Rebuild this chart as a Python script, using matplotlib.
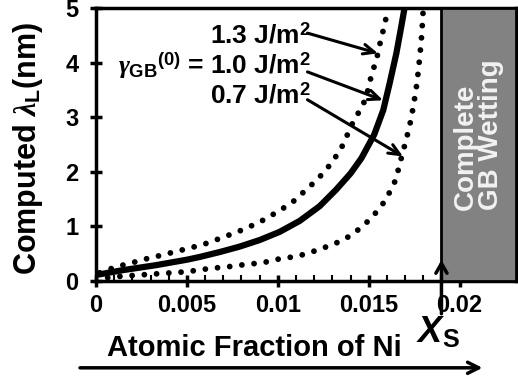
import numpy as np
import matplotlib
matplotlib.use("Agg")
from matplotlib import pyplot as plt

plt.rcParams['font.family'] = ['Liberation Sans', 'DejaVu Sans']
plt.rcParams['font.weight'] = 'bold'
plt.rcParams['mathtext.fontset'] = 'custom'
plt.rcParams['mathtext.rm'] = 'Liberation Sans'
plt.rcParams['mathtext.it'] = 'Liberation Serif:italic'
plt.rcParams['mathtext.sf'] = 'Liberation Sans:italic'

# computed lambda_L (nm) vs atomic fraction of Ni
x_10 = [0.0, 0.0015, 0.0033, 0.005, 0.0057, 0.0068, 0.0079, 0.0090, 0.0101,
        0.0112, 0.0123, 0.0132, 0.0140, 0.0146, 0.0153, 0.0158, 0.01615,
        0.01652, 0.01679, 0.01697]
lam_10 = [0.11, 0.20, 0.29, 0.39, 0.44, 0.53, 0.63, 0.75, 0.90,
          1.10, 1.37, 1.67, 1.97, 2.25, 2.68, 3.13, 3.62,
          4.17, 4.66, 5.0]

x_13 = [0.0002, 0.00086, 0.00146, 0.00205, 0.00269, 0.00333, 0.00452, 0.0058,
        0.00636, 0.00696, 0.00755, 0.00815, 0.00874, 0.00929, 0.00984, 0.01038,
        0.0109, 0.01139, 0.01185, 0.01231, 0.01271, 0.01309, 0.01346, 0.01372,
        0.01423, 0.0146, 0.01487, 0.01515, 0.01533, 0.01551, 0.01564, 0.01579,
        0.01593, 0.0160]
lam_13 = [0.15, 0.23, 0.29, 0.34, 0.40, 0.45, 0.55, 0.66,
          0.72, 0.80, 0.87, 0.95, 1.04, 1.13, 1.24, 1.35,
          1.47, 1.62, 1.76, 1.91, 2.06, 2.23, 2.41, 2.60,
          2.98, 3.16, 3.38, 3.77, 3.96, 4.17, 4.38, 4.58,
          4.78, 5.0]

x_07 = [0.0, 0.0004, 0.00113, 0.0024, 0.005, 0.00626, 0.00691, 0.00751, 0.00815,
        0.00874, 0.00938, 0.01002, 0.01062, 0.01125, 0.01185, 0.01245, 0.01304,
        0.01363, 0.01418, 0.01515, 0.01593, 0.01648, 0.01679, 0.0171, 0.01732,
        0.01748, 0.01762, 0.01773, 0.01782, 0.0179, 0.01796, 0.0180]
lam_07 = [0.0, 0.05, 0.08, 0.11, 0.17, 0.23, 0.25, 0.27, 0.30,
          0.32, 0.35, 0.40, 0.43, 0.47, 0.53, 0.60, 0.67,
          0.76, 0.87, 1.15, 1.48, 1.85, 2.25, 2.64, 2.95,
          3.25, 3.55, 3.85, 4.15, 4.45, 4.75, 5.0]

x_s = 0.019
x_max = 0.0231
x_ticks = [0, 0.005, 0.01, 0.015, 0.02]
x_ticklabels = ['0', '0.005', '0.01', '0.015', '0.02']
y_ticks = [0, 1, 2, 3, 4, 5]
gamma_labels = ['1.3 J/m$^2$', '1.0 J/m$^2$', '0.7 J/m$^2$']

fig = plt.figure(figsize=(5.18, 3.83), dpi=100)
ax = fig.add_axes([96 / 518, 1 - 281 / 383, 420 / 518, 273 / 383])

dots = dict(color='black', lw=4.2, linestyle=(0, (0.001, 2.1)),
            dash_capstyle='round', solid_capstyle='round')
ax.plot(x_13, lam_13, **dots)
ax.plot(x_07, lam_07, **dots)
ax.plot(x_10, lam_10, color='black', lw=4.5, solid_joinstyle='round')

# complete GB wetting region
ax.axvspan(x_s, x_max, facecolor='#828282', edgecolor='black', lw=2, zorder=3)
ax.text((x_s + x_max) / 2, 1.3, 'Complete\nGB Wetting', rotation=90,
        ha='center', va='bottom', multialignment='left', color='#f2f2f2',
        fontsize=20, fontweight='bold', linespacing=0.95, zorder=4)

ax.set_xlim(0, x_max)
ax.set_ylim(0, 5)
ax.set_xticks(x_ticks)
ax.set_xticklabels(x_ticklabels)
ax.set_yticks(y_ticks)
ax.set_xticks(np.arange(0.001, 0.0231, 0.001), minor=True)
ax.tick_params(axis='both', which='major', direction='inout', length=9, width=2.5,
               labelsize=17)
ax.tick_params(axis='x', which='major', pad=5)
ax.tick_params(axis='y', which='major', pad=8)
ax.tick_params(axis='x', which='minor', direction='in', length=4, width=1.5)
for s in ax.spines.values():
    s.set_linewidth(2.5)

ax.set_ylabel('Computed $\\lambda_{\\rm L}$(nm)', fontsize=22, fontweight='bold',
              va='center')
ax.yaxis.set_label_coords(-0.163, 0.485)
ax.set_xlabel('Atomic Fraction of Ni', fontsize=21, fontweight='bold', va='center')
ax.xaxis.set_label_coords(0.376, -0.245)

# gamma labels with arrows
lab_x = 0.00626
lab_y = [4.51, 3.95, 3.41]
tails = [(0.01163, 4.54), (0.01163, 3.83), (0.01163, 3.32)]
heads = [(0.01551, 4.17), (0.01579, 3.31), (0.01689, 2.28)]
for t, yy in zip(gamma_labels, lab_y):
    ax.text(lab_x, yy, t, ha='left', va='center', fontsize=19, fontweight='bold')
ax.text(lab_x - 0.0003, lab_y[1], '${\\gamma_{\\rm GB}}^{(0)}$ =', ha='right',
        va='center', fontsize=19, fontweight='bold')
for t, h in zip(tails, heads):
    ax.annotate('', xy=h, xytext=t,
                arrowprops=dict(arrowstyle='->,head_length=0.8,head_width=0.35',
                                lw=2.2, color='black', shrinkA=0, shrinkB=0))

# X_S arrow and big composition arrow below
ax.annotate('', xy=(x_s, 0.385), xytext=(x_s, -0.6), xycoords='data',
            annotation_clip=False,
            arrowprops=dict(arrowstyle='->,head_length=0.7,head_width=0.4',
                            lw=2.5, color='black', shrinkA=0, shrinkB=0))
ax.text(x_s - 0.0002, -0.95, '$\\mathsf{X}_{\\rm S}$', ha='center', va='center',
        fontsize=26, clip_on=False)
ax.annotate('', xy=(0.02126, -1.59), xytext=(-0.00088, -1.59), xycoords='data',
            annotation_clip=False,
            arrowprops=dict(arrowstyle='->,head_length=0.8,head_width=0.4',
                            lw=2.5, color='black', shrinkA=0, shrinkB=0))

fig.savefig('out.png', dpi=100)
